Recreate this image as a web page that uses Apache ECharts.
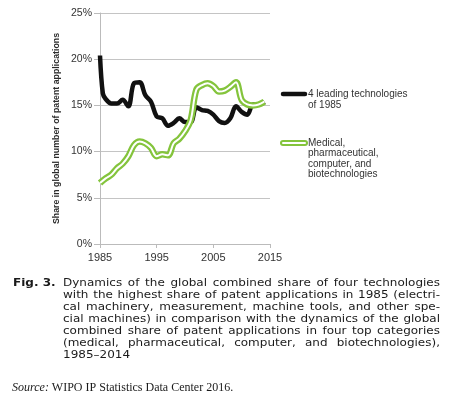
<!DOCTYPE html>
<html>
<head>
<meta charset="utf-8">
<script src="https://cdn.jsdelivr.net/npm/echarts@6/dist/echarts.min.js"></script>
<style>
html,body{margin:0;padding:0;background:#fff;}
#chart{width:459px;height:395px;}
</style>
</head>
<body>
<div id="chart"></div>
<script>
// ---- Data ----
const leadingYears = [1985, 1985.5, 1986, 1987, 1988, 1989, 1990, 1991, 1992, 1993, 1994, 1995, 1996, 1997, 1998, 1999, 2000, 2001, 2002, 2003, 2004, 2005, 2006, 2007, 2008, 2009, 2010, 2011, 2012, 2013, 2014];
const leadingShare = [20.4, 16.3, 15.7, 15.2, 15.2, 15.6, 14.9, 17.4, 17.5, 16.1, 15.4, 13.8, 13.6, 12.8, 13.1, 13.6, 13.2, 13.2, 14.8, 14.5, 14.4, 14.0, 13.3, 13.1, 13.6, 14.9, 14.3, 14.0, 15.1, 15.1, 15.4];
const medicalYears = [1985, 1986, 1987, 1988, 1989, 1990, 1991, 1992, 1993, 1994, 1995, 1996, 1997, 1998, 1999, 2000, 2001, 2002, 2003, 2004, 2005, 2006, 2007, 2008, 2009, 2010, 2011, 2012, 2013, 2014];
const medicalShare = [6.6, 7.1, 7.5, 8.2, 8.7, 9.5, 10.7, 11.1, 10.9, 10.4, 9.5, 9.7, 9.6, 10.9, 11.4, 12.2, 13.4, 16.7, 17.2, 17.4, 17.1, 16.5, 16.6, 17.0, 17.5, 15.6, 15.1, 15.0, 15.1, 15.4];
const xTickLabels = [1985, 1995, 2005, 2015];
const yTickValues = [0, 5, 10, 15, 20, 25];
const seriesNames = ['4 leading technologies\nof 1985', 'Medical,\npharmaceutical,\ncomputer, and\nbiotechnologies'];
const yAxisTitle = 'Share in global number of patent applications';
const captionLabel = 'Fig. 3.';
const captionLines = [
  'Dynamics of the global combined share of four technologies',
  'with the highest share of patent applications in 1985 (electri-',
  'cal machinery, measurement, machine tools, and other spe-',
  'cial machines) in comparison with the dynamics of the global',
  'combined share of patent applications in four top categories',
  '(medical, pharmaceutical, computer, and biotechnologies),',
  '1985\u20132014'
];
const sourceLabel = 'Source:';
const sourceText = ' WIPO IP Statistics Data Center 2016.';

// ---- Build ----
const pairs = (xs, ys) => xs.map((x, i) => [x, ys[i]]);
const GREEN = '#84c43c';
const chart = echarts.init(document.getElementById('chart'), null, {renderer: 'canvas'});

const capFont = '12px "DejaVu Sans"';
const capScaleY = 0.9;
const ctx = document.createElement('canvas').getContext('2d');
ctx.font = capFont;
const capLeft = 63, capRight = 440, capTop = 283.5, capLH = 11.9;
const graphics = [];
captionLines.forEach((line, li) => {
  const y = capTop + li * capLH;
  const words = line.split(' ');
  const last = li === captionLines.length - 1;
  if (last || words.length < 2) {
    graphics.push({type: 'text', x: capLeft, y: y, scaleY: capScaleY, style: {text: line, font: capFont, fill: '#1a1a1a', textVerticalAlign: 'middle'}});
    return;
  }
  const widths = words.map(w => ctx.measureText(w).width);
  const sum = widths.reduce((a, b) => a + b, 0);
  const gap = (capRight - capLeft - sum) / (words.length - 1);
  let x = capLeft;
  words.forEach((w, wi) => {
    graphics.push({type: 'text', x: x, y: y, scaleY: capScaleY, style: {text: w, font: capFont, fill: '#1a1a1a', textVerticalAlign: 'middle'}});
    x += widths[wi] + gap;
  });
});
graphics.push({type: 'text', x: 13, y: capTop, scaleY: capScaleY, style: {text: captionLabel, font: 'bold 12px "DejaVu Sans"', fill: '#1a1a1a', textVerticalAlign: 'middle'}});
// source line
ctx.font = 'italic 12px "Liberation Serif"';
const srcW = ctx.measureText(sourceLabel).width;
graphics.push({type: 'text', x: 12, y: 387.5, style: {text: sourceLabel, font: 'italic 12px "Liberation Serif"', fill: '#1a1a1a', textVerticalAlign: 'middle'}});
graphics.push({type: 'text', x: 12 + srcW, y: 387.5, style: {text: sourceText, font: '12px "Liberation Serif"', fill: '#1a1a1a', textVerticalAlign: 'middle'}});
// legend
graphics.push({type: 'line', shape: {x1: 283, y1: 94, x2: 305, y2: 94}, style: {stroke: '#111', lineWidth: 4.5, lineCap: 'round'}});
graphics.push({type: 'text', x: 308, y: 89.3, style: {text: seriesNames[0], font: '10px "Liberation Sans"', fill: '#333', lineHeight: 10.5, textVerticalAlign: 'top'}});
graphics.push({type: 'line', shape: {x1: 283, y1: 143, x2: 305, y2: 143}, style: {stroke: GREEN, lineWidth: 6, lineCap: 'round'}});
graphics.push({type: 'line', shape: {x1: 283, y1: 143, x2: 305, y2: 143}, style: {stroke: '#fff', lineWidth: 2, lineCap: 'round'}});
graphics.push({type: 'text', x: 308, y: 137.5, style: {text: seriesNames[1], font: '10px "Liberation Sans"', fill: '#333', lineHeight: 10.5, textVerticalAlign: 'top'}});

chart.setOption({
  animation: false,
  backgroundColor: '#fff',
  grid: {left: 100, right: 189, top: 13, bottom: 151, containLabel: false},
  xAxis: {
    type: 'value', min: 1985, max: 2015, interval: 5,
    axisLine: {show: true, lineStyle: {color: '#bbb', width: 1}},
    axisTick: {show: true, length: 4, customValues: xTickLabels, lineStyle: {color: '#bbb'}},
    splitLine: {show: false},
    axisLabel: {
      margin: 8, color: '#333', fontSize: 11, fontFamily: 'Liberation Sans',
      customValues: xTickLabels,
      formatter: v => String(v)
    }
  },
  yAxis: {
    type: 'value', min: 0, max: 25, interval: 5,
    name: yAxisTitle, nameLocation: 'middle', nameGap: 39,
    nameTextStyle: {color: '#2a2a2a', fontSize: 8.8, fontWeight: 'bold', fontFamily: 'Liberation Sans'},
    axisLine: {show: true, lineStyle: {color: '#bbb', width: 1}},
    axisTick: {show: true, length: 6, lineStyle: {color: '#bbb'}},
    splitLine: {show: true, lineStyle: {color: '#c4c4c4', width: 1}},
    axisLabel: {margin: 8, color: '#333', fontSize: 10.5, fontFamily: 'Liberation Sans',
      formatter: v => yTickValues.indexOf(v) >= 0 ? v + '%' : ''}
  },
  series: [
    {type: 'line', name: 'medical-outer', data: pairs(medicalYears, medicalShare), smooth: 0.35, showSymbol: false,
     lineStyle: {color: GREEN, width: 6.5}, z: 2},
    {type: 'line', name: 'medical-inner', data: pairs(medicalYears, medicalShare), smooth: 0.35, showSymbol: false,
     lineStyle: {color: '#fff', width: 2}, z: 3},
    {type: 'line', name: 'leading', data: pairs(leadingYears, leadingShare), smooth: 0.35, showSymbol: false,
     lineStyle: {color: '#111', width: 4.5}, z: 1}
  ],
  graphic: graphics
});
</script>
</body>
</html>
